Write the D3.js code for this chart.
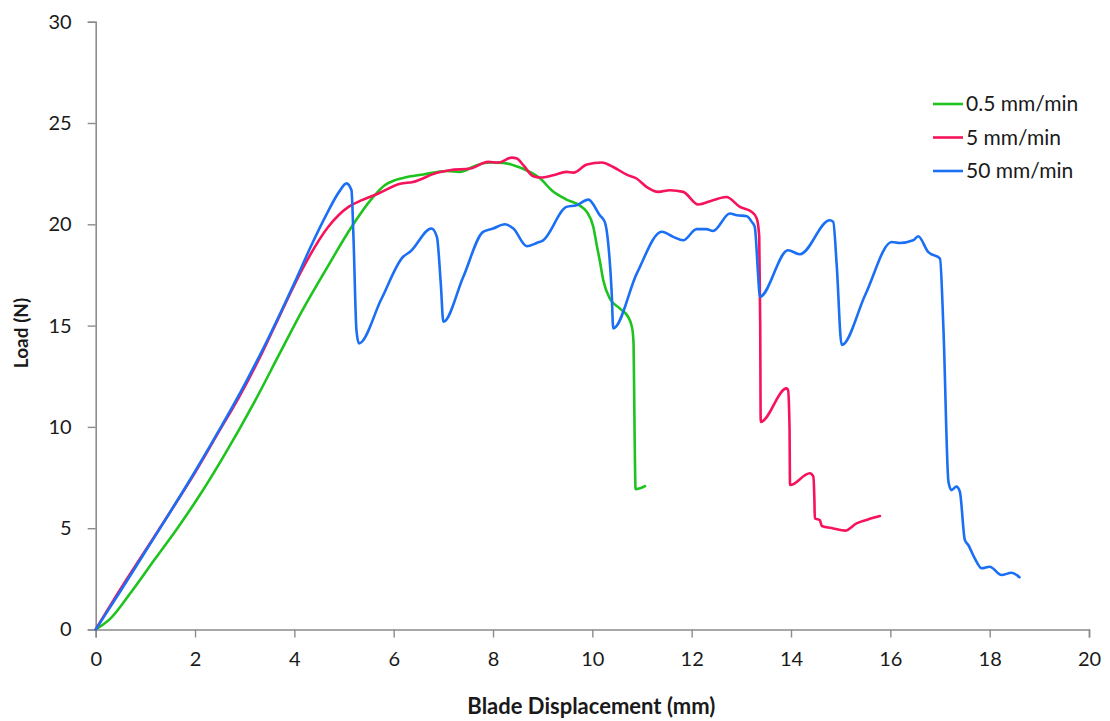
<!DOCTYPE html>
<html>
<head>
<meta charset="utf-8">
<script src="https://cdn.jsdelivr.net/npm/d3@7"></script>
<style>
  html, body { margin: 0; padding: 0; background: #fff; }
  svg { display: block; }
  text { font-family: Lato, "Open Sans", sans-serif; fill: #1a1a1a; }
</style>
</head>
<body>
<svg id="chart" width="1110" height="721"></svg>
<script>
// Blade displacement (mm) vs load (N) for three cutting speeds
const seriesNames = ["0.5 mm/min", "5 mm/min", "50 mm/min"];
const seriesColors = ["#1ec31e", "#f7135c", "#1a6ff5"];

const slow = [
  [0,0],[0.3,0.55],[0.7,1.8],[1.2,3.5],[1.66,5.05],[2.1,6.65],[2.54,8.4],[3.2,11.25],[3.7,13.6],
  [4.15,15.7],[4.68,17.95],[5.15,19.87],[5.56,21.27],[5.82,21.93],[6.03,22.18],
  [6.19,22.29],[6.6,22.46],[7.07,22.63],[7.33,22.59],[7.67,22.92],[7.94,23.05],[8.21,23.03],
  [8.41,22.92],[8.74,22.59],[8.95,22.26],[9.18,21.68],[9.48,21.22],[9.75,20.92],[9.89,20.61],
  [10.02,19.87],[10.09,18.95],[10.15,18.2],[10.22,17.24],[10.35,16.34],[10.55,15.85],
  [10.72,15.43],[10.8,14.9],[10.83,14.1],[10.85,9.84],[10.87,6.92],[10.96,6.97],[11.06,7.08]
];

const medium = [
  [0,0],[0.5,2.0],[1,3.9],[1.5,5.8],[2,7.75],[2.5,9.85],[2.87,11.4],[3.3,13.4],[3.71,15.52],
  [4.15,17.74],[4.68,19.87],[5.09,20.86],[5.36,21.19],[5.69,21.52],[6.13,22.0],[6.39,22.09],
  [6.87,22.54],[7.13,22.67],[7.54,22.75],[7.9,23.08],[8.11,23.05],[8.38,23.29],[8.48,23.25],
  [8.61,22.92],[8.81,22.37],[8.95,22.31],[9.21,22.42],[9.48,22.59],[9.62,22.55],[9.89,22.95],
  [10.19,23.05],[10.42,22.83],[10.69,22.45],[10.89,22.26],[11.09,21.85],[11.33,21.6],
  [11.56,21.68],[11.83,21.6],[12.13,20.98],[12.43,21.19],[12.7,21.35],[12.97,20.86],
  [13.21,20.61],[13.31,20.29],[13.36,19.4],[13.38,15.0],[13.39,10.25],[13.91,11.9],
  [13.94,11.82],[13.97,10.0],[13.98,7.13],[14.38,7.71],[14.45,7.54],[14.47,6.5],[14.48,5.49],
  [14.58,5.4],[14.62,5.11],[14.85,4.99],[15.09,4.88],[15.32,5.24],[15.56,5.44],[15.79,5.6]
];

const fast = [
  [0,0],[0.5,1.9],[1,3.85],[1.5,5.8],[2,7.8],[2.5,9.9],[3,12.1],[3.5,14.5],[4,17.1],
  [4.35,19.0],[4.65,20.5],[4.9,21.6],[5.05,22.02],[5.15,21.68],[5.19,19.38],[5.25,14.78],
  [5.3,14.12],[5.75,16.3],[6.19,18.4],[6.33,18.64],[6.76,19.79],[6.87,19.38],[6.95,17.0],
  [7.0,15.19],[7.4,17.4],[7.8,19.63],[8.0,19.79],[8.24,20.0],[8.41,19.79],[8.68,18.92],
  [8.88,19.08],[9.01,19.21],[9.48,20.86],[9.68,20.94],[9.92,21.22],[10.15,20.45],[10.25,20.12],
  [10.32,19.05],[10.39,16.59],[10.42,14.86],[10.9,17.6],[11.4,19.63],[11.63,19.38],
  [11.83,19.21],[12.1,19.76],[12.3,19.76],[12.43,19.67],[12.77,20.53],[12.91,20.45],
  [13.11,20.4],[13.21,20.12],[13.27,19.87],[13.34,17.4],[13.37,16.42],[13.94,18.72],
  [14.18,18.52],[14.78,20.2],[14.85,20.12],[14.92,18.0],[15.02,14.04],[15.5,16.55],
  [16.03,19.13],[16.19,19.08],[16.46,19.21],[16.56,19.41],[16.76,18.64],[17.0,18.31],
  [17.07,14.78],[17.17,7.29],[17.23,6.88],[17.33,7.05],[17.4,6.8],[17.5,4.42],[17.57,4.17],
  [17.7,3.51],[17.84,3.02],[18.0,3.1],[18.24,2.69],[18.44,2.8],[18.6,2.58]
];

const xTicks = [0, 2, 4, 6, 8, 10, 12, 14, 16, 18, 20];
const yTicks = [0, 5, 10, 15, 20, 25, 30];

const svg = d3.select("#chart");
const plotLeft = 95.7, plotRight = 1089, plotTop = 21.7, plotBottom = 629.5;

const x = d3.scaleLinear().domain([0, 20]).range([plotLeft, plotRight]);
const y = d3.scaleLinear().domain([0, 30]).range([plotBottom, plotTop]);

const axisColor = "#8c8c8c";

// x axis
const gx = svg.append("g").attr("transform", `translate(0,${plotBottom})`)
  .call(d3.axisBottom(x).tickValues(xTicks).tickSize(8).tickPadding(14).tickFormat(d3.format("d")));
gx.select(".domain").attr("stroke", axisColor).attr("stroke-width", 1.6);
gx.selectAll(".tick line").attr("stroke", axisColor).attr("stroke-width", 1.4);
gx.selectAll(".tick text").style("font-size", "20px").attr("fill", "#1a1a1a");

// y axis
const gy = svg.append("g").attr("transform", `translate(${plotLeft},0)`)
  .call(d3.axisLeft(y).tickValues(yTicks).tickSize(8).tickPadding(16).tickFormat(d3.format("d")));
gy.select(".domain").attr("stroke", axisColor).attr("stroke-width", 1.6);
gy.selectAll(".tick line").attr("stroke", axisColor).attr("stroke-width", 1.4);
gy.selectAll(".tick text").style("font-size", "20px").attr("fill", "#1a1a1a");

// axis titles
svg.append("text")
  .attr("x", (plotLeft + plotRight) / 2 - 1)
  .attr("y", 714)
  .attr("text-anchor", "middle")
  .style("font-size", "22px")
  .style("font-weight", "bold")
  .text("Blade Displacement (mm)");

svg.append("text")
  .attr("transform", "translate(28,333) rotate(-90)")
  .attr("text-anchor", "middle")
  .style("font-size", "19px")
  .style("font-weight", "bold")
  .text("Load (N)");

// curves
const line = d3.line()
  .x(d => x(d[0]))
  .y(d => y(d[1]))
  .curve(d3.curveMonotoneX);

[slow, medium, fast].forEach((data, i) => {
  svg.append("path")
    .datum(data)
    .attr("fill", "none")
    .attr("stroke", seriesColors[i])
    .attr("stroke-width", 2.6)
    .attr("stroke-linejoin", "round")
    .attr("stroke-linecap", "round")
    .attr("d", line);
});

// legend
const legend = svg.append("g").attr("transform", "translate(933,104)");
seriesNames.forEach((name, i) => {
  const row = legend.append("g").attr("transform", `translate(0,${i * 33.5})`);
  row.append("line")
    .attr("x1", 0).attr("x2", 30)
    .attr("y1", 0).attr("y2", 0)
    .attr("stroke", seriesColors[i])
    .attr("stroke-width", 2.6);
  row.append("text")
    .attr("x", 33)
    .attr("y", 0)
    .attr("dy", "0.35em")
    .style("font-size", "21px")
    .text(name);
});
</script>
</body>
</html>
